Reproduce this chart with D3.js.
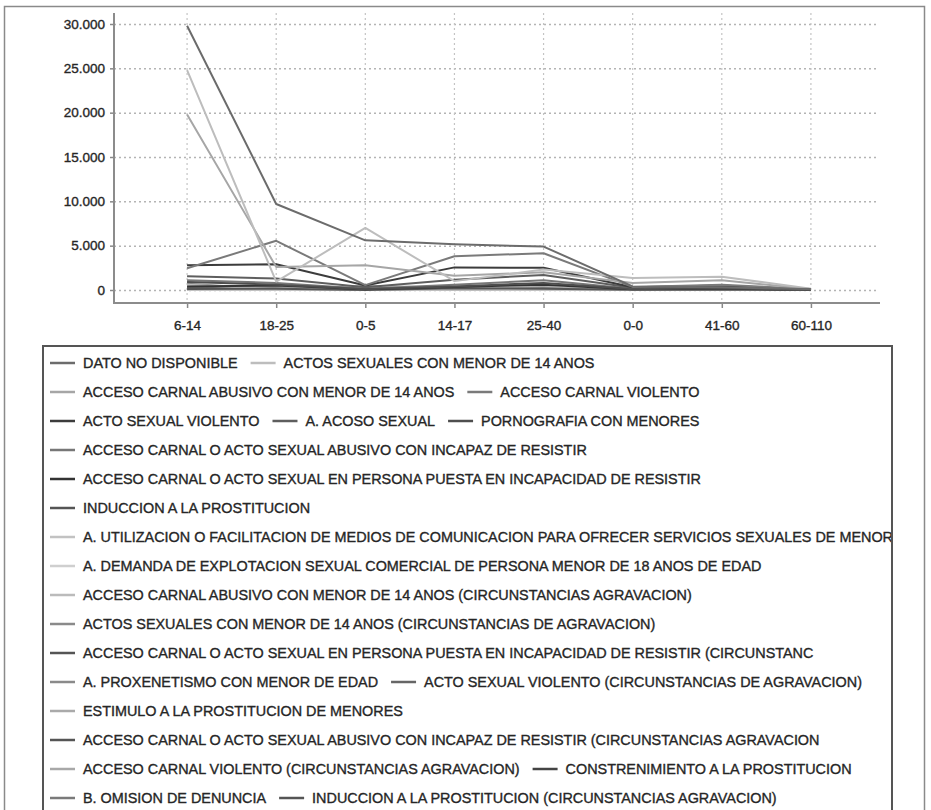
<!DOCTYPE html>
<html>
<head>
<meta charset="utf-8">
<script src="https://cdn.jsdelivr.net/npm/d3@7"></script>
<style>
  html, body { margin: 0; padding: 0; background: #fff; }
  svg { display: block; font-family: "Liberation Sans", Arial, sans-serif; }
</style>
</head>
<body>
<svg id="chart" width="931" height="810"></svg>
<script>
// ---------------- DATA ----------------
const categories = ["6-14", "18-25", "0-5", "14-17", "25-40", "0-0", "41-60", "60-110"];

const yTicks = [0, 5000, 10000, 15000, 20000, 25000, 30000];

const seriesNames = [
  "DATO NO DISPONIBLE",
  "ACTOS SEXUALES CON MENOR DE 14 ANOS",
  "ACCESO CARNAL ABUSIVO CON MENOR DE 14 ANOS",
  "ACCESO CARNAL VIOLENTO",
  "ACTO SEXUAL VIOLENTO",
  "A. ACOSO SEXUAL",
  "PORNOGRAFIA CON MENORES",
  "ACCESO CARNAL O ACTO SEXUAL ABUSIVO CON INCAPAZ DE RESISTIR",
  "ACCESO CARNAL O ACTO SEXUAL EN PERSONA PUESTA EN INCAPACIDAD DE RESISTIR",
  "INDUCCION A LA PROSTITUCION",
  "A. UTILIZACION O FACILITACION DE MEDIOS DE COMUNICACION PARA OFRECER SERVICIOS SEXUALES DE MENORES",
  "A. DEMANDA DE EXPLOTACION SEXUAL COMERCIAL DE PERSONA MENOR DE 18 ANOS DE EDAD",
  "ACCESO CARNAL ABUSIVO CON MENOR DE 14 ANOS (CIRCUNSTANCIAS AGRAVACION)",
  "ACTOS SEXUALES CON MENOR DE 14 ANOS (CIRCUNSTANCIAS DE AGRAVACION)",
  "ACCESO CARNAL O ACTO SEXUAL EN PERSONA PUESTA EN INCAPACIDAD DE RESISTIR  (CIRCUNSTANC",
  "A. PROXENETISMO CON MENOR DE EDAD",
  "ACTO SEXUAL VIOLENTO (CIRCUNSTANCIAS DE AGRAVACION)",
  "ESTIMULO A LA PROSTITUCION DE MENORES",
  "ACCESO CARNAL O ACTO SEXUAL ABUSIVO CON INCAPAZ DE RESISTIR (CIRCUNSTANCIAS AGRAVACION",
  "ACCESO CARNAL VIOLENTO (CIRCUNSTANCIAS AGRAVACION)",
  "CONSTRENIMIENTO A LA PROSTITUCION",
  "B. OMISION DE DENUNCIA",
  "INDUCCION A LA PROSTITUCION (CIRCUNSTANCIAS AGRAVACION)"
];

// values per series, in the order of `categories`
const s01 = [29800, 9700, 5600, 5150, 4900, 400, 300, 100];
const s02 = [24800, 950, 7000, 1000, 2300, 1350, 1500, 150];
const s03 = [19800, 2600, 2800, 1600, 2000, 800, 1100, 100];
const s04 = [2450, 5550, 550, 3800, 4150, 350, 600, 80];
const s05 = [2800, 2900, 500, 2550, 2500, 300, 500, 60];
const s06 = [1550, 1300, 300, 1150, 1700, 250, 400, 50];
const s07 = [900, 600, 100, 400, 800, 100, 200, 20];
const s08 = [1100, 800, 150, 600, 1100, 150, 300, 30];
const s09 = [400, 500, 80, 350, 600, 80, 150, 20];
const s10 = [100, 150, 10, 200, 150, 20, 40, 5];
const s11 = [30, 20, 5, 30, 20, 5, 5, 0];
const s12 = [40, 30, 5, 60, 30, 5, 5, 0];
const s13 = [600, 100, 400, 300, 150, 300, 200, 20];
const s14 = [700, 80, 450, 250, 120, 250, 150, 20];
const s15 = [150, 120, 30, 100, 150, 30, 50, 5];
const s16 = [80, 60, 10, 90, 60, 10, 10, 0];
const s17 = [200, 180, 40, 150, 200, 40, 60, 5];
const s18 = [60, 40, 5, 70, 40, 5, 5, 0];
const s19 = [60, 50, 10, 40, 70, 10, 20, 2];
const s20 = [300, 400, 60, 250, 350, 60, 80, 10];
const s21 = [50, 40, 5, 60, 40, 5, 5, 0];
const s22 = [100, 60, 40, 70, 80, 40, 30, 5];
const s23 = [30, 20, 3, 40, 20, 3, 3, 0];
const seriesValues = [s01, s02, s03, s04, s05, s06, s07, s08, s09, s10, s11, s12,
                      s13, s14, s15, s16, s17, s18, s19, s20, s21, s22, s23];

// ---------------- STYLE ----------------
const palette = ["#6c6c6c", "#bdbdbd", "#a6a6a6", "#7a7a7a", "#3c3c3c", "#5e5e5e", "#4e4e4e",
                 "#777777", "#333333", "#555555", "#c2c2c2", "#cfcfcf", "#bbbbbb", "#8a8a8a",
                 "#555555", "#8a8a8a", "#666666", "#aaaaaa", "#555555", "#a8a8a8", "#444444",
                 "#7a7a7a", "#555555"];

const svg = d3.select("#chart");
const FONT = 14.4;
const TXT = "#262626";

// outer frame
svg.append("rect").attr("x", 4.5).attr("y", 6.5).attr("width", 920).attr("height", 820)
  .attr("fill", "none").attr("stroke", "#8a8a8a").attr("stroke-width", 1.5);

// ---------------- SCALES ----------------
const plotL = 114, plotR = 884, plotT = 13, plotB = 303;
const x = d3.scalePoint().domain(categories).range([plotL, plotR]).padding(0.82);
const y = d3.scaleLinear().domain([0, 30000]).range([290, 24]);

const locale = d3.formatLocale({decimal: ",", thousands: ".", grouping: [3], currency: ["", ""]});
const fmt = locale.format(",d");

// grid
const grid = svg.append("g");
grid.selectAll("line.h").data(yTicks).join("line")
  .attr("x1", plotL).attr("x2", plotR - 6)
  .attr("y1", d => y(d) + 0.5).attr("y2", d => y(d) + 0.5)
  .attr("stroke", "#b4b4b4").attr("stroke-width", 1.5).attr("stroke-dasharray", "2,3");
grid.selectAll("line.v").data(categories).join("line")
  .attr("x1", d => x(d)).attr("x2", d => x(d))
  .attr("y1", plotT).attr("y2", plotB)
  .attr("stroke", "#c4c4c4").attr("stroke-width", 1.2).attr("stroke-dasharray", "2,3");

// axes
const yAxis = d3.axisLeft(y).tickValues(yTicks).tickFormat(fmt).tickSize(4).tickPadding(5);
const gy = svg.append("g").attr("transform", `translate(${plotL},0)`).call(yAxis);
gy.select(".domain").remove();
gy.selectAll(".tick line").attr("stroke", "#888").attr("stroke-width", 1.5);
gy.selectAll(".tick text").attr("font-size", 13.5).attr("fill", TXT)
  .attr("stroke", TXT).attr("stroke-width", 0.35)
  .attr("font-family", "Liberation Sans, Arial, sans-serif");

const xAxis = d3.axisBottom(x).tickSize(5).tickPadding(12);
const gx = svg.append("g").attr("transform", `translate(0,${plotB})`).call(xAxis);
gx.select(".domain").remove();
gx.selectAll(".tick line").attr("stroke", "#888").attr("stroke-width", 1.5);
gx.selectAll(".tick text").attr("font-size", 13.5).attr("fill", TXT)
  .attr("stroke", TXT).attr("stroke-width", 0.35)
  .attr("font-family", "Liberation Sans, Arial, sans-serif");

svg.append("line").attr("x1", plotL).attr("x2", plotL).attr("y1", plotT).attr("y2", plotB + 1)
  .attr("stroke", "#8c8c8c").attr("stroke-width", 2);
svg.append("line").attr("x1", plotL).attr("x2", plotR - 4).attr("y1", plotB).attr("y2", plotB)
  .attr("stroke", "#8c8c8c").attr("stroke-width", 2);

// lines
const lineGen = d3.line().x((d, i) => x(categories[i])).y(d => y(d));
const series = seriesNames.map((n, i) => ({name: n, values: seriesValues[i], color: palette[i]}));
svg.append("g").selectAll("path").data(series.slice().reverse()).join("path")
  .attr("d", d => lineGen(d.values))
  .attr("fill", "none").attr("stroke", d => d.color).attr("stroke-width", 2)
  .attr("stroke-linejoin", "round");

// ---------------- LEGEND ----------------
const boxL = 43, boxT = 346, boxR = 892;
svg.append("defs").append("clipPath").attr("id", "legclip")
  .append("rect").attr("x", boxL).attr("y", boxT).attr("width", boxR - boxL - 1).attr("height", 600);
const leg = svg.append("g").attr("clip-path", "url(#legclip)");
const rowH = 29, firstRow = 363, startX = 50, symW = 25, symGap = 8, itemGap = 13;
let cx = startX, row = 0;
series.forEach(s => {
  const t = leg.append("text").attr("font-size", FONT).attr("fill", TXT)
    .attr("stroke", TXT).attr("stroke-width", 0.35)
    .attr("dy", "0.35em").text(s.name);
  const w = symW + symGap + t.node().getComputedTextLength();
  if (cx > startX && cx + w > boxR - 2) { row++; cx = startX; }
  const cy = firstRow + row * rowH;
  leg.append("line").attr("x1", cx).attr("x2", cx + symW).attr("y1", cy).attr("y2", cy)
    .attr("stroke", s.color).attr("stroke-width", 2.5);
  t.attr("x", cx + symW + symGap).attr("y", cy);
  cx += w + itemGap;
});
svg.append("rect").attr("x", boxL).attr("y", boxT).attr("width", boxR - boxL).attr("height", 480)
  .attr("fill", "none").attr("stroke", "#555").attr("stroke-width", 2);
</script>
</body>
</html>
